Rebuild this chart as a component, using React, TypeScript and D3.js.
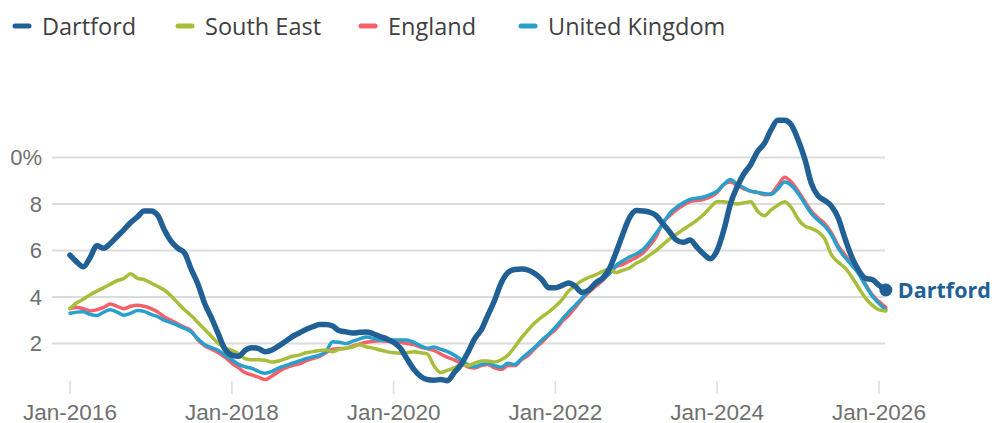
import React from "react";
import * as d3 from "d3";

const seriesNames = ["Dartford", "South East", "England", "United Kingdom"];
const seriesColors = ["#206095", "#a8bd3a", "#f66068", "#27a0cc"];
const yTicks = [2, 4, 6, 8, 10];
const xTickYears = [2016, 2018, 2020, 2022, 2024, 2026];

const dartford = [
  5.8, 5.5, 5.3, 5.7, 6.2, 6.1, 6.3, 6.6, 6.9, 7.2, 7.45, 7.7,
  7.7, 7.5, 6.9, 6.4, 6.1, 5.9, 5.2, 4.55, 3.7, 3.1, 2.4, 1.75,
  1.5, 1.45, 1.7, 1.82, 1.78, 1.65, 1.72, 1.9, 2.1, 2.3, 2.45, 2.6,
  2.72, 2.82, 2.82, 2.75, 2.55, 2.5, 2.45, 2.48, 2.5, 2.42, 2.3, 2.2,
  2.05, 1.8, 1.35, 0.9, 0.6, 0.45, 0.42, 0.45, 0.4, 0.75, 1.1, 1.6,
  2.2, 2.6, 3.2, 3.85, 4.6, 5.05, 5.18, 5.2, 5.15, 5.0, 4.75, 4.4,
  4.4, 4.5, 4.6, 4.45, 4.2, 4.3, 4.6, 4.8, 5.2, 5.9, 6.7, 7.4,
  7.72, 7.7, 7.65, 7.5, 7.15, 6.8, 6.45, 6.35, 6.45, 6.15, 5.85, 5.65,
  6.0, 6.9, 8.0, 8.75, 9.3, 9.7, 10.25, 10.6, 11.2, 11.6, 11.6, 11.4,
  10.75, 9.9, 8.9, 8.35, 8.15, 7.9, 7.4, 6.5, 5.7, 5.15, 4.8, 4.75,
  4.5, 4.3,
];

const southEast = [
  3.5, 3.75, 3.9, 4.1, 4.25, 4.4, 4.55, 4.7, 4.8, 5.0, 4.8, 4.75,
  4.6, 4.45, 4.3, 4.05, 3.75, 3.45, 3.2, 2.9, 2.6, 2.3, 2.0, 1.8,
  1.7, 1.55, 1.35, 1.3, 1.3, 1.28, 1.2, 1.25, 1.35, 1.45, 1.5, 1.6,
  1.65, 1.7, 1.72, 1.65, 1.75, 1.8, 1.85, 1.95, 1.85, 1.8, 1.72, 1.65,
  1.6, 1.58, 1.6, 1.65, 1.6, 1.55, 1.05, 0.75, 0.85, 0.95, 1.1, 1.05,
  1.15, 1.25, 1.25, 1.2, 1.3, 1.5, 1.85, 2.25, 2.6, 2.9, 3.15, 3.35,
  3.6, 3.9, 4.25, 4.5, 4.7, 4.85, 4.95, 5.1, 5.2, 5.05, 5.15, 5.25,
  5.45, 5.6, 5.8, 6.0, 6.25, 6.5, 6.7, 6.9, 7.1, 7.3, 7.55, 7.85,
  8.1, 8.1, 8.05, 8.0, 8.05, 8.1, 7.7, 7.5, 7.75, 7.95, 8.1, 7.85,
  7.35, 7.05, 6.95, 6.8, 6.5, 5.8, 5.5, 5.25, 4.85, 4.4, 3.95, 3.65,
  3.45, 3.4,
];

const england = [
  3.5, 3.55, 3.5, 3.4, 3.45, 3.55, 3.7, 3.6, 3.5, 3.6, 3.65, 3.6,
  3.5, 3.35, 3.15, 3.0, 2.85, 2.7, 2.55, 2.15, 1.9, 1.75, 1.6, 1.4,
  1.15, 0.95, 0.75, 0.65, 0.55, 0.45, 0.6, 0.8, 0.95, 1.05, 1.12, 1.25,
  1.35, 1.45, 1.6, 1.75, 1.78, 1.8, 1.9, 1.98, 2.05, 2.1, 2.12, 2.1,
  2.08, 2.05, 2.0, 1.95, 1.85, 1.78, 1.7, 1.55, 1.4, 1.3, 1.15, 1.0,
  0.95, 1.05, 1.1, 0.95, 0.88, 1.05, 1.05, 1.3, 1.5, 1.8, 2.05, 2.35,
  2.6, 2.95, 3.2, 3.55, 3.9, 4.2, 4.45, 4.7, 5.0, 5.3, 5.4, 5.55,
  5.7, 5.9, 6.2, 6.6, 7.2, 7.5, 7.75, 7.95, 8.1, 8.15, 8.2, 8.3,
  8.5, 8.85, 8.95, 8.8, 8.65, 8.55, 8.5, 8.4, 8.45, 8.8, 9.15, 8.95,
  8.55, 8.1, 7.7, 7.4, 7.15, 6.75, 6.2, 5.8, 5.4, 5.05, 4.55, 4.1,
  3.8, 3.55,
];

const unitedKingdom = [
  3.3, 3.35, 3.37, 3.25, 3.2, 3.35, 3.45, 3.35, 3.22, 3.3, 3.42, 3.38,
  3.25, 3.15, 3.0, 2.9, 2.78, 2.65, 2.5, 2.2, 1.95, 1.82, 1.7, 1.5,
  1.3, 1.1, 1.0, 0.93, 0.8, 0.72, 0.8, 0.95, 1.05, 1.15, 1.25, 1.35,
  1.42, 1.5, 1.65, 2.08, 2.05, 2.0, 2.1, 2.2, 2.28, 2.22, 2.15, 2.15,
  2.15, 2.15, 2.15, 2.05, 1.9, 1.8, 1.85, 1.75, 1.65, 1.5, 1.3, 1.08,
  1.0, 1.1, 1.15, 1.05, 0.98, 1.15, 1.1, 1.35, 1.6, 1.85, 2.15, 2.4,
  2.7, 3.05, 3.35, 3.65, 3.95, 4.3, 4.55, 4.75, 5.0, 5.35, 5.55, 5.72,
  5.85, 6.05, 6.35, 6.75, 7.15, 7.6, 7.85, 8.05, 8.2, 8.25, 8.3, 8.4,
  8.55, 8.85, 9.05, 8.85, 8.7, 8.55, 8.5, 8.45, 8.42, 8.65, 8.95, 8.8,
  8.45, 8.0, 7.6, 7.3, 7.05, 6.65, 6.1, 5.7, 5.35, 5.0, 4.5, 4.05,
  3.72, 3.45,
];

const W = 997;
const H = 423;

export default function App() {
  const x = d3
    .scaleTime()
    .domain([new Date(2016, 0, 1), new Date(2026, 0, 1)])
    .range([70, 879]);
  const y = d3.scaleLinear().domain([0, 10]).range([390, 157.5]);

  const dateAt = (i: number) => new Date(2016, i, 1);
  const line = d3
    .line<number>()
    .x((_, i) => x(dateAt(i)))
    .y((d) => y(d))
    .curve(d3.curveMonotoneX);

  const data = [dartford, southEast, england, unitedKingdom];
  const drawOrder = [2, 3, 1, 0];
  const lastIdx = dartford.length - 1;
  const endX = x(dateAt(lastIdx));
  const endY = y(dartford[lastIdx]);

  const legendTextX = [42, 205, 388, 548];

  return (
    <div style={{ position: "fixed", left: 0, top: 0 }}>
      <svg width={W} height={H} style={{ display: "block", background: "#fff" }}>
        <defs>
          <clipPath id="ylab-clip">
            <rect x={10.5} y={0} width={60} height={H} />
          </clipPath>
        </defs>

        {/* legend */}
        {seriesNames.map((name, i) => (
          <g key={name} transform={`translate(${legendTextX[i]},26)`}>
            <line
              x1={-27}
              x2={-13}
              y1={0}
              y2={0}
              stroke={seriesColors[i]}
              strokeWidth={5}
              strokeLinecap="round"
            />
            <text
              x={0}
              y={8.5}
              fontFamily="'Open Sans', sans-serif"
              fontSize={23.5}
              fill="#414042"
            >
              {name}
            </text>
          </g>
        ))}

        {/* gridlines */}
        {yTicks.map((t) => (
          <line
            key={t}
            x1={52}
            x2={885}
            y1={y(t)}
            y2={y(t)}
            stroke="#dcdcdc"
            strokeWidth={2}
          />
        ))}
        <g clipPath="url(#ylab-clip)">
          {yTicks.map((t) => (
            <text
              key={"l" + t}
              x={42}
              y={y(t)}
              dy="0.36em"
              textAnchor="end"
              fontFamily="'Liberation Sans', Arial, sans-serif"
              fontSize={22}
              fill="#707070"
            >
              {t === 10 ? "10%" : t}
            </text>
          ))}
        </g>

        {/* x ticks */}
        {xTickYears.map((yr) => {
          const px = x(new Date(yr, 0, 1));
          return (
            <g key={yr}>
              <line x1={px} x2={px} y1={381} y2={394} stroke="#dcdcdc" strokeWidth={1.5} />
              <text
                x={px}
                y={419.5}
                textAnchor="middle"
                fontFamily="'Liberation Sans', Arial, sans-serif"
                fontSize={22.5}
                fill="#707070"
              >
                {`Jan-${yr}`}
              </text>
            </g>
          );
        })}

        {/* lines */}
        {drawOrder.map((si) => (
          <path
            key={seriesNames[si]}
            d={line(data[si]) || ""}
            fill="none"
            stroke={seriesColors[si]}
            strokeWidth={si === 0 ? 5.5 : 3.5}
            strokeLinejoin="round"
            strokeLinecap="round"
          />
        ))}

        {/* end marker + label */}
        <circle cx={endX} cy={endY} r={6.5} fill={seriesColors[0]} />
        <text
          x={endX + 12}
          y={endY}
          dy="0.36em"
          fontFamily="'Open Sans', sans-serif"
          fontWeight={700}
          fontSize={21.5}
          fill={seriesColors[0]}
        >
          Dartford
        </text>
      </svg>
    </div>
  );
}
